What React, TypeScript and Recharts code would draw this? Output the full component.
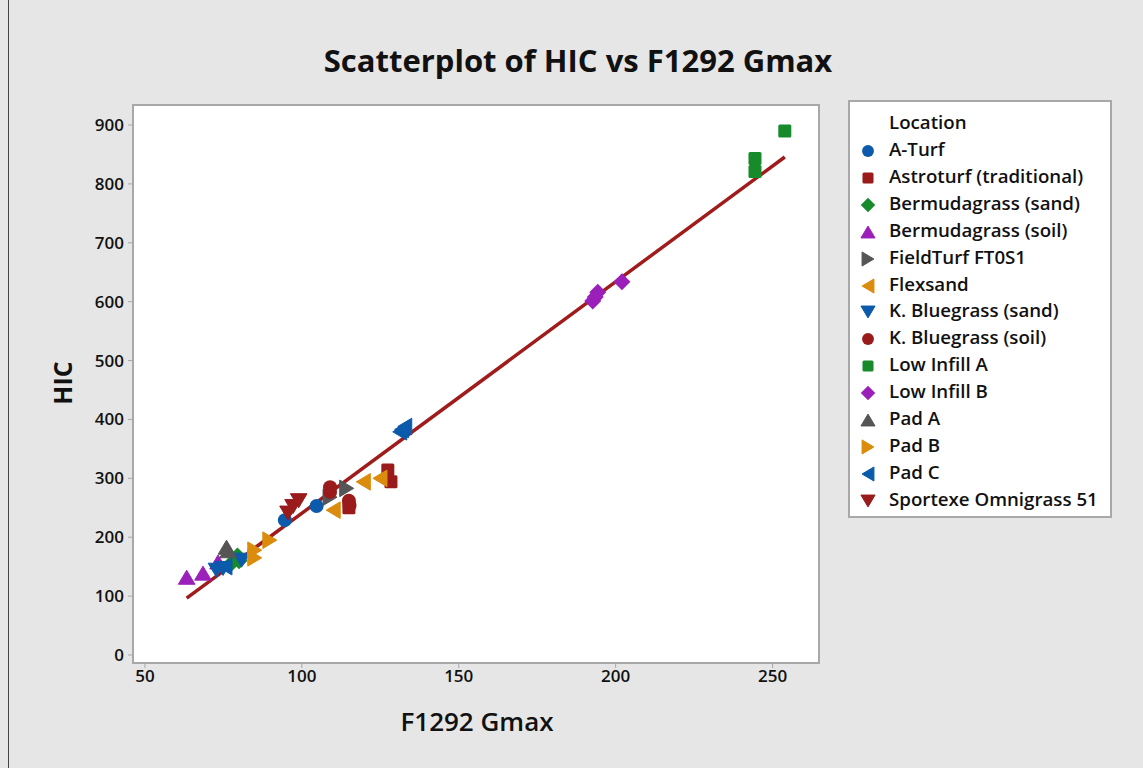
import React from "react";
import { ScatterChart, Scatter, XAxis, YAxis, ReferenceLine } from "recharts";

// F1292 Gmax (x) vs HIC (y), one array per location
const aTurf = [{ gmax: 94.6, hic: 229 }, { gmax: 104.7, hic: 253 }];
const astroturf = [{ gmax: 127.4, hic: 314 }, { gmax: 128.4, hic: 294 }, { gmax: 115, hic: 250 }];
const bermudaSand = [{ gmax: 77, hic: 153 }, { gmax: 79.5, hic: 168 }, { gmax: 80, hic: 160 }];
const bermudaSoil = [{ gmax: 63.3, hic: 132 }, { gmax: 68.5, hic: 139 }, { gmax: 73.3, hic: 158 }];
const fieldTurf = [{ gmax: 109, hic: 268 }, { gmax: 114.3, hic: 283 }];
const flexsand = [{ gmax: 110, hic: 246 }, { gmax: 119.6, hic: 294 }, { gmax: 124.9, hic: 300 }];
const kBlueSand = [{ gmax: 72.8, hic: 144 }, { gmax: 74.9, hic: 147 }, { gmax: 80.8, hic: 161 }];
const kBlueSoil = [{ gmax: 109, hic: 285 }, { gmax: 109, hic: 277 }, { gmax: 115, hic: 262 }, { gmax: 115.2, hic: 254 }];
const lowInfillA = [{ gmax: 244.4, hic: 843 }, { gmax: 244.4, hic: 821 }, { gmax: 253.9, hic: 890 }];
const lowInfillB = [{ gmax: 192.7, hic: 601 }, { gmax: 193.5, hic: 608 }, { gmax: 194.3, hic: 616 }, { gmax: 202, hic: 634 }];
const padA = [{ gmax: 76, hic: 183 }, { gmax: 76.5, hic: 177 }];
const padB = [{ gmax: 85, hic: 178 }, { gmax: 85, hic: 165 }, { gmax: 89.8, hic: 195 }];
const padC = [{ gmax: 131.2, hic: 379 }, { gmax: 132.8, hic: 388 }, { gmax: 131.8, hic: 383 }, { gmax: 75.5, hic: 150 }];
const sportexe = [{ gmax: 95.6, hic: 241 }, { gmax: 97.2, hic: 252 }, { gmax: 99, hic: 262 }];

const xTicks = [50, 100, 150, 200, 250];
const yTicks = [0, 100, 200, 300, 400, 500, 600, 700, 800, 900];

// fitted line HIC = intercept + slope * Gmax
const fitIntercept = -152.4;
const fitSlope = 3.931;

const font = "'Open Sans', 'Noto Sans', sans-serif";
const BLUE = "#0b5aab";
const RED = "#991b1b";
const GREEN = "#178a2c";
const PURPLE = "#9a20b9";
const GRAY = "#555555";
const ORANGE = "#dc8c0c";

type Kind = "circle" | "square" | "diamond" | "up" | "down" | "left" | "right";

const series: { name: string; data: { gmax: number; hic: number }[]; kind: Kind; color: string }[] = [
    { name: "A-Turf", data: aTurf, kind: "circle", color: BLUE },
    { name: "Astroturf (traditional)", data: astroturf, kind: "square", color: RED },
    { name: "Bermudagrass (sand)", data: bermudaSand, kind: "diamond", color: GREEN },
    { name: "Bermudagrass (soil)", data: bermudaSoil, kind: "up", color: PURPLE },
    { name: "FieldTurf FT0S1", data: fieldTurf, kind: "right", color: GRAY },
    { name: "Flexsand", data: flexsand, kind: "left", color: ORANGE },
    { name: "K. Bluegrass (sand)", data: kBlueSand, kind: "down", color: BLUE },
    { name: "K. Bluegrass (soil)", data: kBlueSoil, kind: "circle", color: RED },
    { name: "Low Infill A", data: lowInfillA, kind: "square", color: GREEN },
    { name: "Low Infill B", data: lowInfillB, kind: "diamond", color: PURPLE },
    { name: "Pad A", data: padA, kind: "up", color: GRAY },
    { name: "Pad B", data: padB, kind: "right", color: ORANGE },
    { name: "Pad C", data: padC, kind: "left", color: BLUE },
    { name: "Sportexe Omnigrass 51", data: sportexe, kind: "down", color: RED },
];

function Marker({ cx, cy, kind, color, s = 1 }: { cx: number; cy: number; kind: Kind; color: string; s?: number }) {
    if (cx == null || cy == null) return null;
    const r = 7 * s;
    if (kind === "circle") return <circle cx={cx} cy={cy} r={r} fill={color} />;
    if (kind === "square") {
        const h = 6.5 * s;
        return <rect x={cx - h} y={cy - h} width={2 * h} height={2 * h} rx={1.5} fill={color} />;
    }
    if (kind === "diamond") {
        const d = 8.5 * s;
        return <polygon points={`${cx},${cy - d} ${cx + d},${cy} ${cx},${cy + d} ${cx - d},${cy}`} fill={color} />;
    }
    const a = 8.3 * s;
    const b = 7 * s;
    let pts = "";
    if (kind === "up") pts = `${cx},${cy - b} ${cx + a},${cy + b} ${cx - a},${cy + b}`;
    if (kind === "down") pts = `${cx},${cy + b} ${cx + a},${cy - b} ${cx - a},${cy - b}`;
    if (kind === "right") pts = `${cx + b},${cy} ${cx - b},${cy - a} ${cx - b},${cy + a}`;
    if (kind === "left") pts = `${cx - b},${cy} ${cx + b},${cy - a} ${cx + b},${cy + a}`;
    return <polygon points={pts} fill={color} strokeLinejoin="round" stroke={color} strokeWidth={1} />;
}

const allX = series.flatMap((sr) => sr.data.map((d) => d.gmax));
const fitMin = Math.min(...allX);
const fitMax = Math.max(...allX);

export default function App() {
    return (
        <div style={{ position: "absolute", left: 0, top: 0, width: 1143, height: 768, background: "#e6e6e6", fontFamily: font }}>
            <div style={{ position: "absolute", left: 8, top: 0, width: 1, height: 768, background: "#444" }} />
            <div style={{ position: "absolute", left: 0, width: 1156, top: 39, textAlign: "center", fontSize: 31, fontWeight: 700, color: "#111" }}>
                Scatterplot of HIC vs F1292 Gmax
            </div>
            <div style={{ position: "absolute", left: 132, top: 104, width: 688, height: 560, boxSizing: "border-box", background: "#fff", border: "2px solid #a8a8a8" }} />
            <div style={{ position: "absolute", left: 32, top: 366, width: 60, textAlign: "center", fontSize: 25, fontWeight: 700, color: "#111", transform: "rotate(-90deg)" }}>
                HIC
            </div>
            <div style={{ position: "absolute", left: 327, width: 300, top: 703, textAlign: "center", fontSize: 26, fontWeight: 600, color: "#111" }}>
                F1292 Gmax
            </div>
            <div style={{ position: "absolute", left: 0, top: 0 }}>
                <ScatterChart width={1143} height={768} margin={{ top: 105, right: 324, bottom: 65, left: 73 }}>
                    <XAxis type="number" dataKey="gmax" domain={[46.2, 264.8]} ticks={xTicks} allowDataOverflow height={40}
                        axisLine={false} tickLine={{ stroke: "#a8a8a8" }} tickSize={5} tickMargin={2}
                        tick={{ fill: "#111", fontSize: 17, fontWeight: 600, fontFamily: font }} />
                    <YAxis type="number" dataKey="hic" domain={[-13.6, 934]} ticks={yTicks} allowDataOverflow width={60}
                        axisLine={false} tickLine={{ stroke: "#a8a8a8" }} tickSize={5} tickMargin={4}
                        tick={{ fill: "#111", fontSize: 17, fontWeight: 600, fontFamily: font }} />
                    <ReferenceLine
                        segment={[{ x: fitMin, y: fitIntercept + fitSlope * fitMin }, { x: fitMax, y: fitIntercept + fitSlope * fitMax }]}
                        stroke="#a01c1c" strokeWidth={3.5} ifOverflow="visible" />
                    {series.map((sr) => (
                        <Scatter key={sr.name} name={sr.name} data={sr.data} isAnimationActive={false}
                            shape={(p: any) => <Marker cx={p.cx} cy={p.cy} kind={sr.kind} color={sr.color} />} />
                    ))}
                </ScatterChart>
            </div>
            <div style={{ position: "absolute", left: 848, top: 100, width: 264, height: 418, boxSizing: "border-box", background: "#fff", border: "2px solid #a8a8a8" }}>
                <div style={{ position: "absolute", left: 39, top: 7, fontSize: 18.7, fontWeight: 600, color: "#111" }}>Location</div>
                {series.map((sr, i) => (
                    <div key={sr.name} style={{ position: "absolute", left: 0, top: 34 + i * 26.9, height: 26, width: 260 }}>
                        <svg width={30} height={26} style={{ position: "absolute", left: 4, top: 0 }}>
                            <Marker cx={14} cy={15} kind={sr.kind} color={sr.color} s={0.85} />
                        </svg>
                        <div style={{ position: "absolute", left: 39, top: 0, fontSize: 18.7, fontWeight: 600, color: "#111", whiteSpace: "nowrap" }}>
                            {sr.name}
                        </div>
                    </div>
                ))}
            </div>
        </div>
    );
}
